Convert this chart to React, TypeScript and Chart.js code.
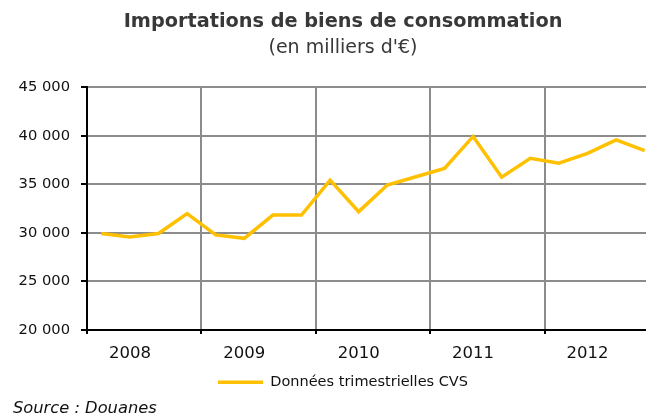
import React, { useEffect, useRef } from "react";
import { Chart, registerables } from "chart.js";

Chart.register(...registerables);

const years = ["2008", "2009", "2010", "2011", "2012"];
const quarters = ["T1", "T2", "T3", "T4"];
const importValues = [
  29950, 29600, 29950, 32000,
  29800, 29450, 31850, 31850,
  35450, 32200, 34950, 35800,
  36650, 39950, 35750, 37700,
  37200, 38200, 39600, 38500,
];
const yMin = 20000;
const yMax = 45000;
const yStep = 5000;

const titleText = "Importations de biens de consommation";
const subtitleText = "(en milliers d'€)";
const seriesLabel = "Données trimestrielles CVS";
const sourceText = "Source : Douanes";

const categories = years.flatMap((y) => quarters.map((q) => `${q} ${y}`));

const fmt = (v: number) => String(v).replace(/\B(?=(\d{3})+(?!\d))/g, " ");

const FONT = "'DejaVu Sans', Verdana, sans-serif";

export default function App() {
  const ref = useRef<HTMLCanvasElement | null>(null);

  useEffect(() => {
    if (!ref.current) return;
    const chart = new Chart(ref.current, {
      type: "line",
      data: {
        labels: categories,
        datasets: [
          {
            label: seriesLabel,
            data: importValues,
            borderColor: "#FFC000",
            backgroundColor: "#FFC000",
            borderWidth: 3.5,
            pointRadius: 0,
            tension: 0,
            fill: false,
          },
        ],
      },
      options: {
        responsive: false,
        animation: false,
        layout: { padding: { left: 0, right: 0, top: 0, bottom: 16.5 } },
        plugins: {
          title: {
            display: true,
            text: titleText,
            color: "#383838",
            font: { family: FONT, size: 19.3, weight: "bold", lineHeight: 1.2 },
            padding: { top: 10, bottom: 0 },
          },
          subtitle: {
            display: true,
            text: subtitleText,
            color: "#383838",
            font: { family: FONT, size: 19, lineHeight: 1.2 },
            padding: { top: 4, bottom: 27.5 },
          },
          legend: {
            position: "bottom",
            labels: {
              usePointStyle: true,
              pointStyle: "line",
              pointStyleWidth: 45,
              color: "#111",
              padding: 1,
              font: { family: FONT, size: 14.5 },
            },
          },
          tooltip: { enabled: false },
        },
        scales: {
          x: {
            type: "category",
            offset: true,
            grid: {
              offset: true,
              color: (c: any) => (c.index % 4 === 0 ? "#8c8c8c" : "transparent"),
              tickColor: (c: any) => (c.index % 4 === 0 ? "#000" : "transparent"),
              lineWidth: 2,
              tickLength: 4,
              tickWidth: 2,
            },
            border: { color: "#000", width: 2 },
            ticks: {
              autoSkip: false,
              maxRotation: 0,
              minRotation: 0,
              padding: 11.75,
              color: "#111",
              font: { family: FONT, size: 16.5, lineHeight: 1 },
              callback: (_v: any, i: number) => (i % 4 === 1 ? years[Math.floor(i / 4)] : ""),
            },
          },
          y: {
            min: yMin,
            max: yMax,
            afterFit: (s: any) => {
              s.width = 87;
            },
            grid: {
              color: "#8c8c8c",
              lineWidth: 2,
              tickColor: "#000",
              tickLength: 6,
              tickWidth: 2,
            },
            border: { color: "#000", width: 2 },
            ticks: {
              stepSize: yStep,
              padding: 11,
              color: "#111",
              font: { family: FONT, size: 14.7 },
              callback: (v: any) => fmt(Number(v)),
            },
          },
          yRight: {
            type: "linear",
            position: "right",
            display: true,
            grid: { display: false, drawTicks: false },
            border: { display: false },
            ticks: { display: false },
            afterFit: (s: any) => {
              s.width = 27;
            },
          },
        },
      },
    });
    return () => chart.destroy();
  }, []);

  return (
    <div
      style={{
        position: "fixed",
        left: 0,
        top: 0,
        width: 646,
        height: 416,
        overflow: "hidden",
        background: "#fff",
      }}
    >
      <canvas ref={ref} width={686} height={416} style={{ display: "block" }} />
      <div
        style={{
          position: "absolute",
          left: 13,
          top: 398,
          fontFamily: FONT,
          fontStyle: "italic",
          fontSize: 16.3,
          lineHeight: "19px",
          color: "#111",
          whiteSpace: "nowrap",
        }}
      >
        {sourceText}
      </div>
    </div>
  );
}
